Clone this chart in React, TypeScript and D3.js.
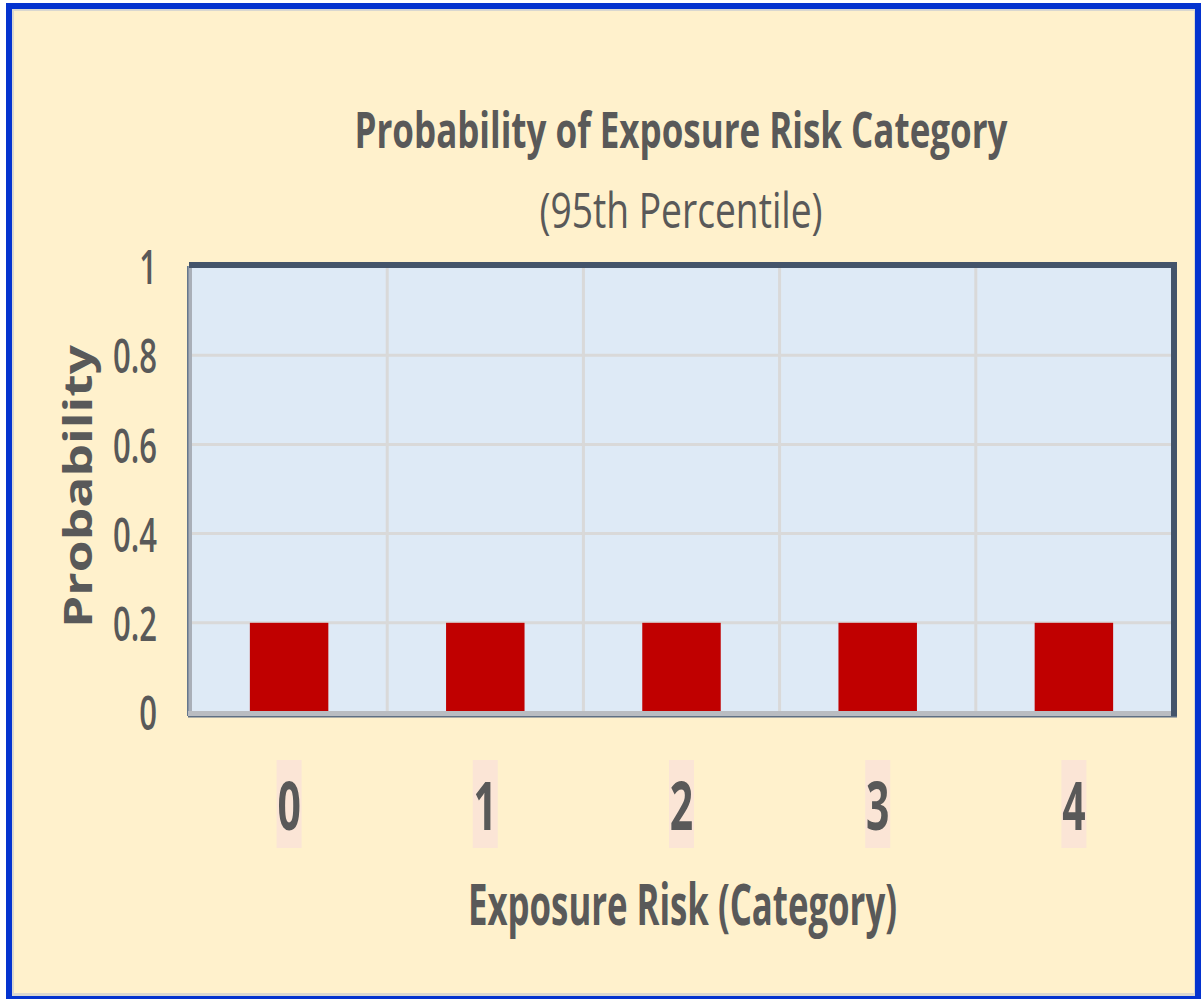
import React, { useLayoutEffect, useRef, useState } from "react";
import * as d3 from "d3";

// Chart data
const categories: string[] = ["0", "1", "2", "3", "4"];
const probabilities: number[] = [0.2, 0.2, 0.2, 0.2, 0.2];
const yTicks: number[] = [0, 0.2, 0.4, 0.6, 0.8, 1];

const titleText = "Probability of Exposure Risk Category";
const subtitleText = "(95th Percentile)";
const xTitleText = "Exposure Risk (Category)";
const yTitleText = "Probability";

const W = 1201;
const H = 999;
const plot = { left: 191, right: 1172, top: 266, bottom: 712 };

const TEXT = "#595959";
const FONT = "'Open Sans', 'Noto Sans', sans-serif";

// Condensed text: measures its natural width and squeezes it horizontally to the given width.
function FitText(props: {
  cx: number;
  y: number;
  width: number;
  size: number;
  weight: number;
  rotate?: number;
  children: string;
}) {
  const ref = useRef<SVGTextElement>(null);
  const [sx, setSx] = useState(0.65);
  useLayoutEffect(() => {
    if (ref.current) {
      const w = ref.current.getComputedTextLength();
      if (w > 0) setSx(props.width / w);
    }
  }, [props.width, props.children]);
  const rot = props.rotate ? ` rotate(${props.rotate})` : "";
  return (
    <text
      ref={ref}
      transform={`translate(${props.cx},${props.y})${rot} scale(${sx},1)`}
      textAnchor="middle"
      fontFamily={FONT}
      fontWeight={props.weight}
      fontSize={props.size}
      fill={TEXT}
    >
      {props.children}
    </text>
  );
}

export default function App() {
  const x = d3
    .scaleBand<string>()
    .domain(categories)
    .range([plot.left, plot.right])
    .padding(0);
  const y = d3.scaleLinear().domain([0, 1]).range([plot.bottom, plot.top]);
  const barW = x.step() * 0.4;

  const fmt = (v: number) => (v === 0 || v === 1 ? String(v) : d3.format(".1f")(v));

  return (
    <div style={{ position: "absolute", left: 0, top: 0 }}>
      <svg width={W} height={H} style={{ display: "block" }}>
        {/* chart surface with frame */}
        <rect x={0} y={0} width={W} height={H} fill="#ffffff" />
        <rect x={6} y={3} width={W - 6} height={H - 3} fill="#0433CF" />
        <rect x={12} y={9} width={W - 18} height={H - 12} fill="#D9D7D0" />
        <rect x={14} y={11} width={W - 21} height={H - 17} fill="#FFF1CC" />

        {/* titles */}
        <FitText cx={681} y={148} width={653} size={50} weight={700}>
          {titleText}
        </FitText>
        <FitText cx={681} y={228} width={283} size={49} weight={400}>
          {subtitleText}
        </FitText>

        {/* plot area */}
        <rect
          x={plot.left}
          y={plot.top}
          width={plot.right - plot.left}
          height={plot.bottom - plot.top}
          fill="#DEEAF6"
        />

        {/* horizontal gridlines */}
        {yTicks
          .filter((t) => t > 0 && t < 1)
          .map((t) => (
            <line
              key={`h${t}`}
              x1={plot.left}
              x2={plot.right}
              y1={y(t)}
              y2={y(t)}
              stroke="#D9D9D9"
              strokeWidth={3}
            />
          ))}
        {/* vertical gridlines at category boundaries */}
        {categories.slice(1).map((c) => (
          <line
            key={`v${c}`}
            x1={x(c)!}
            x2={x(c)!}
            y1={plot.top}
            y2={plot.bottom}
            stroke="#D9D9D9"
            strokeWidth={3}
          />
        ))}

        {/* bars */}
        {categories.map((c, i) => (
          <rect
            key={`b${c}`}
            x={x(c)! + x.bandwidth() / 2 - barW / 2}
            y={y(probabilities[i])}
            width={barW}
            height={y(0) - y(probabilities[i])}
            fill="#C00000"
          />
        ))}

        {/* plot frame: dark top/right, light bevel left/bottom */}
        <rect x={188} y={266} width={4} height={450} fill="#A9AFB8" />
        <rect x={187} y={266} width={1.5} height={450} fill="#66778C" />
        <rect x={188} y={711} width={989} height={5} fill="#B9BCC1" />
        <rect x={188} y={716} width={989} height={1.5} fill="#5E6F84" />
        <rect x={189} y={262} width={988} height={6} fill="#44546A" />
        <rect x={1171} y={262} width={6} height={454} fill="#44546A" />

        {/* y-axis tick labels */}
        {yTicks.map((t) => (
          <text
            key={`yt${t}`}
            transform={`translate(157,${y(t)}) scale(0.66,1)`}
            textAnchor="end"
            dominantBaseline="central"
            fontFamily={FONT}
            fontWeight={600}
            fontSize={47}
            fill={TEXT}
          >
            {fmt(t)}
          </text>
        ))}

        {/* x-axis tick labels with highlight */}
        {categories.map((c) => {
          const cx = x(c)! + x.bandwidth() / 2;
          return (
            <g key={`xt${c}`}>
              <rect x={cx - 12.5} y={760} width={25} height={88} fill="#FBE5D6" />
              <text
                transform={`translate(${cx},830) scale(0.62,1)`}
                textAnchor="middle"
                fontFamily={FONT}
                fontWeight={700}
                fontSize={66}
                fill={TEXT}
              >
                {c}
              </text>
            </g>
          );
        })}

        {/* axis titles */}
        <FitText cx={682.5} y={925} width={429} size={58} weight={700}>
          {xTitleText}
        </FitText>
        <FitText cx={92} y={486.5} width={283} size={40} weight={700} rotate={-90}>
          {yTitleText}
        </FitText>
      </svg>
    </div>
  );
}
